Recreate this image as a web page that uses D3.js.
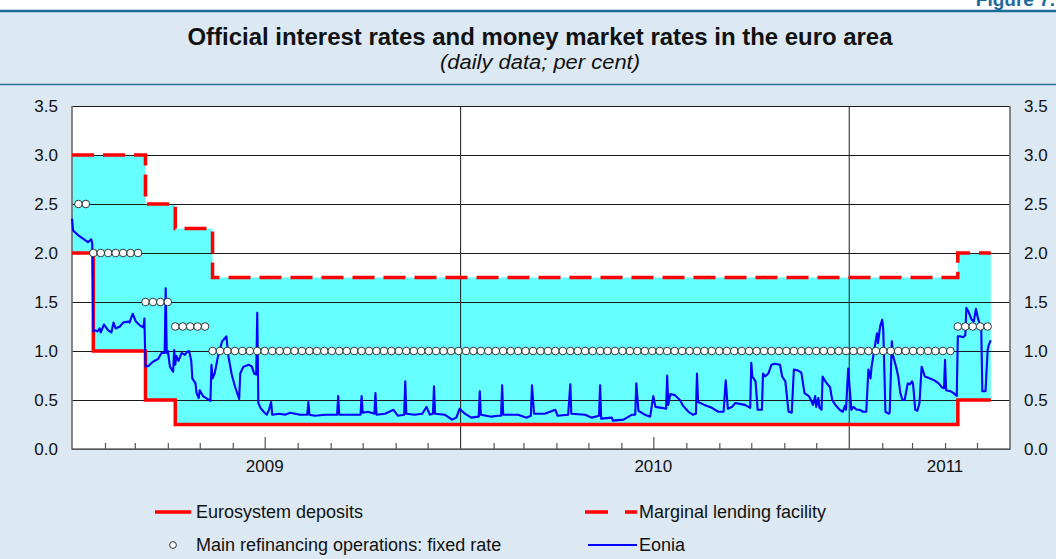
<!DOCTYPE html>
<html>
<head>
<meta charset="utf-8">
<script src="https://cdn.jsdelivr.net/npm/d3@7"></script>
<style>
  body { margin: 0; background: #fff; }
  svg { display: block; font-family: "Liberation Sans", Arial, Helvetica, sans-serif; }
</style>
</head>
<body>
<div id="chart"></div>
<script>
// ECB policy rates, as step changes (date the new rate applies, per cent)
var depositSteps = [["2009-01-01", 2.00], ["2009-01-21", 1.00], ["2009-03-11", 0.50], ["2009-04-08", 0.25], ["2011-04-13", 0.50]];
var lendingSteps = [["2009-01-01", 3.00], ["2009-03-11", 2.50], ["2009-04-08", 2.25], ["2009-05-13", 1.75], ["2011-04-13", 2.00]];
var mroSteps = [["2009-01-01", 2.50], ["2009-01-21", 2.00], ["2009-03-11", 1.50], ["2009-04-08", 1.25], ["2009-05-13", 1.00], ["2011-04-13", 1.25]];
var dataEnd = "2011-05-14";
// weekly main refinancing operations (Wednesdays)
var mroFirstOp = "2009-01-07", mroLastOp = "2011-05-11";

// Eonia
var eonia = [
  ["2009-01-01", 2.35], ["2009-01-02", 2.23], ["2009-01-07", 2.18], ["2009-01-11", 2.15], ["2009-01-16", 2.11],
  ["2009-01-19", 2.14], ["2009-01-20", 2.10], ["2009-01-21", 1.20], ["2009-01-23", 1.21], ["2009-01-25", 1.20],
  ["2009-01-27", 1.23], ["2009-01-28", 1.19], ["2009-01-31", 1.27], ["2009-02-04", 1.21], ["2009-02-07", 1.19],
  ["2009-02-09", 1.29], ["2009-02-11", 1.23], ["2009-02-15", 1.25], ["2009-02-18", 1.29], ["2009-02-23", 1.30],
  ["2009-02-24", 1.29], ["2009-02-27", 1.38], ["2009-03-02", 1.30], ["2009-03-06", 1.26], ["2009-03-09", 1.24],
  ["2009-03-10", 1.33], ["2009-03-11", 0.84], ["2009-03-14", 0.85], ["2009-03-18", 0.89], ["2009-03-23", 0.92],
  ["2009-03-26", 0.98], ["2009-03-29", 0.98], ["2009-03-30", 1.64], ["2009-03-31", 0.98], ["2009-04-01", 1.00],
  ["2009-04-03", 0.84], ["2009-04-06", 0.79], ["2009-04-07", 1.01], ["2009-04-08", 0.86], ["2009-04-09", 0.95],
  ["2009-04-11", 0.90], ["2009-04-14", 0.98], ["2009-04-17", 0.96], ["2009-04-19", 0.99], ["2009-04-21", 1.00],
  ["2009-04-23", 0.90], ["2009-04-24", 0.72], ["2009-04-27", 0.67], ["2009-04-28", 0.57], ["2009-04-30", 0.52],
  ["2009-05-01", 0.60], ["2009-05-04", 0.54], ["2009-05-07", 0.52], ["2009-05-11", 0.49], ["2009-05-12", 0.86],
  ["2009-05-13", 0.72], ["2009-05-15", 0.77], ["2009-05-18", 0.94], ["2009-05-22", 1.10], ["2009-05-23", 1.11],
  ["2009-05-26", 1.15], ["2009-05-28", 0.94], ["2009-05-31", 0.76], ["2009-06-03", 0.64], ["2009-06-07", 0.51],
  ["2009-06-08", 0.77], ["2009-06-11", 0.84], ["2009-06-16", 0.86], ["2009-06-19", 0.84], ["2009-06-21", 0.77],
  ["2009-06-23", 0.76], ["2009-06-24", 1.39], ["2009-06-25", 0.47], ["2009-06-27", 0.42], ["2009-06-30", 0.38],
  ["2009-07-03", 0.35], ["2009-07-05", 0.40], ["2009-07-07", 0.48], ["2009-07-08", 0.35], ["2009-07-15", 0.36],
  ["2009-07-20", 0.35], ["2009-07-25", 0.37], ["2009-08-03", 0.35], ["2009-08-10", 0.35], ["2009-08-11", 0.48],
  ["2009-08-12", 0.35], ["2009-08-17", 0.34], ["2009-08-27", 0.35], ["2009-09-07", 0.35], ["2009-09-08", 0.54],
  ["2009-09-09", 0.35], ["2009-09-19", 0.35], ["2009-09-29", 0.35], ["2009-09-30", 0.54], ["2009-10-01", 0.37],
  ["2009-10-06", 0.38], ["2009-10-12", 0.36], ["2009-10-13", 0.57], ["2009-10-14", 0.35], ["2009-10-22", 0.36],
  ["2009-10-30", 0.40], ["2009-11-03", 0.34], ["2009-11-09", 0.35], ["2009-11-10", 0.69], ["2009-11-11", 0.36],
  ["2009-11-19", 0.35], ["2009-11-26", 0.36], ["2009-11-30", 0.43], ["2009-12-03", 0.35], ["2009-12-06", 0.36],
  ["2009-12-07", 0.64], ["2009-12-08", 0.36], ["2009-12-17", 0.35], ["2009-12-24", 0.30], ["2009-12-28", 0.32],
  ["2009-12-31", 0.41], ["2010-01-05", 0.36], ["2010-01-11", 0.32], ["2010-01-18", 0.33], ["2010-01-19", 0.59],
  ["2010-01-20", 0.35], ["2010-01-30", 0.33], ["2010-02-05", 0.34], ["2010-02-08", 0.34], ["2010-02-09", 0.65],
  ["2010-02-10", 0.35], ["2010-02-24", 0.35], ["2010-03-04", 0.32], ["2010-03-08", 0.34], ["2010-03-09", 0.65],
  ["2010-03-11", 0.36], ["2010-03-21", 0.36], ["2010-03-31", 0.40], ["2010-04-02", 0.34], ["2010-04-12", 0.35],
  ["2010-04-14", 0.66], ["2010-04-15", 0.36], ["2010-04-28", 0.35], ["2010-05-04", 0.32], ["2010-05-11", 0.34],
  ["2010-05-12", 0.65], ["2010-05-13", 0.31], ["2010-05-23", 0.32], ["2010-05-24", 0.29], ["2010-06-03", 0.30],
  ["2010-06-11", 0.35], ["2010-06-14", 0.35], ["2010-06-15", 0.67], ["2010-06-17", 0.39], ["2010-06-23", 0.35],
  ["2010-06-28", 0.33], ["2010-07-01", 0.54], ["2010-07-03", 0.43], ["2010-07-09", 0.42], ["2010-07-13", 0.41],
  ["2010-07-14", 0.75], ["2010-07-15", 0.45], ["2010-07-17", 0.56], ["2010-07-21", 0.55], ["2010-07-26", 0.50],
  ["2010-07-29", 0.44], ["2010-08-03", 0.38], ["2010-08-07", 0.35], ["2010-08-10", 0.36], ["2010-08-11", 0.77],
  ["2010-08-12", 0.48], ["2010-08-18", 0.45], ["2010-08-25", 0.42], ["2010-08-31", 0.38], ["2010-09-05", 0.38],
  ["2010-09-07", 0.70], ["2010-09-09", 0.41], ["2010-09-13", 0.43], ["2010-09-16", 0.47], ["2010-09-25", 0.45],
  ["2010-09-30", 0.42], ["2010-10-01", 0.88], ["2010-10-02", 0.74], ["2010-10-05", 0.69], ["2010-10-07", 0.40],
  ["2010-10-11", 0.40], ["2010-10-12", 0.77], ["2010-10-14", 0.74], ["2010-10-17", 0.77], ["2010-10-20", 0.86],
  ["2010-10-23", 0.87], ["2010-10-28", 0.86], ["2010-10-30", 0.74], ["2010-11-02", 0.69], ["2010-11-05", 0.38],
  ["2010-11-08", 0.37], ["2010-11-10", 0.81], ["2010-11-14", 0.80], ["2010-11-17", 0.78], ["2010-11-20", 0.57],
  ["2010-11-24", 0.54], ["2010-11-26", 0.50], ["2010-11-28", 0.45], ["2010-11-30", 0.54], ["2010-12-01", 0.43],
  ["2010-12-03", 0.52], ["2010-12-04", 0.42], ["2010-12-06", 0.40], ["2010-12-07", 0.74], ["2010-12-09", 0.70],
  ["2010-12-11", 0.67], ["2010-12-14", 0.63], ["2010-12-16", 0.50], ["2010-12-19", 0.45], ["2010-12-23", 0.40],
  ["2010-12-26", 0.38], ["2010-12-28", 0.44], ["2010-12-29", 0.40], ["2010-12-31", 0.82], ["2011-01-03", 0.40],
  ["2011-01-05", 0.43], ["2011-01-08", 0.40], ["2011-01-11", 0.40], ["2011-01-14", 0.38], ["2011-01-17", 0.38],
  ["2011-01-19", 0.81], ["2011-01-21", 0.72], ["2011-01-22", 0.84], ["2011-01-23", 0.91], ["2011-01-27", 1.18],
  ["2011-01-28", 1.08], ["2011-01-30", 1.25], ["2011-02-01", 1.32], ["2011-02-02", 1.21], ["2011-02-04", 0.38],
  ["2011-02-07", 0.36], ["2011-02-08", 0.37], ["2011-02-10", 1.10], ["2011-02-11", 0.96], ["2011-02-14", 0.84],
  ["2011-02-16", 0.74], ["2011-02-18", 0.57], ["2011-02-20", 0.50], ["2011-02-22", 0.50], ["2011-02-25", 0.67],
  ["2011-02-27", 0.66], ["2011-03-01", 0.69], ["2011-03-02", 0.66], ["2011-03-04", 0.40], ["2011-03-06", 0.39],
  ["2011-03-08", 0.47], ["2011-03-10", 0.84], ["2011-03-13", 0.74], ["2011-03-18", 0.72], ["2011-03-22", 0.70],
  ["2011-03-26", 0.67], ["2011-03-29", 0.63], ["2011-03-31", 0.62], ["2011-04-01", 0.91], ["2011-04-02", 0.60],
  ["2011-04-06", 0.59], ["2011-04-09", 0.57], ["2011-04-12", 0.54], ["2011-04-13", 1.15], ["2011-04-15", 1.15],
  ["2011-04-18", 1.14], ["2011-04-20", 1.16], ["2011-04-21", 1.44], ["2011-04-23", 1.40], ["2011-04-26", 1.32],
  ["2011-04-28", 1.30], ["2011-04-30", 1.43], ["2011-05-02", 1.33], ["2011-05-05", 1.23], ["2011-05-06", 0.59],
  ["2011-05-09", 0.59], ["2011-05-11", 1.01], ["2011-05-12", 1.06], ["2011-05-14", 1.11]
];

var yTicks = [0, 0.5, 1, 1.5, 2, 2.5, 3, 3.5];
var yearLabels = [["2009", "2009-07-01"], ["2010", "2010-07-01"], ["2011", "2011-04-01"]];
var axisStart = "2009-01-01", axisEnd = "2011-06-01";

var width = 1056, height = 559;
var plot = {left: 72, right: 1010, top: 106, bottom: 449};
var parse = d3.timeParse("%Y-%m-%d");

var svg = d3.select("#chart").append("svg")
    .attr("width", width)
    .attr("height", height);

// background panels
svg.append("rect").attr("width", width).attr("height", height).attr("fill", "#dce9f3");
svg.append("rect").attr("width", width).attr("height", 11).attr("fill", "#fff");
svg.append("line").attr("x1", 0).attr("x2", width).attr("y1", 11).attr("y2", 11)
    .attr("stroke", "#1b6a98").attr("stroke-width", 2.5);
svg.append("line").attr("x1", 0).attr("x2", width).attr("y1", 84.5).attr("y2", 84.5)
    .attr("stroke", "#2e7194").attr("stroke-width", 1.5);

// figure number, cut by the top edge as in the source page
svg.append("text")
    .attr("x", 1055).attr("y", 6)
    .attr("text-anchor", "end")
    .attr("font-weight", "bold").attr("font-size", 19)
    .attr("fill", "#1b6a98")
    .text("Figure 7.");

svg.append("text")
    .attr("x", 540).attr("y", 45)
    .attr("text-anchor", "middle")
    .attr("font-weight", "bold").attr("font-size", 23)
    .attr("textLength", 705).attr("lengthAdjust", "spacingAndGlyphs")
    .attr("fill", "#111")
    .text("Official interest rates and money market rates in the euro area");

svg.append("text")
    .attr("x", 540).attr("y", 69)
    .attr("text-anchor", "middle")
    .attr("font-style", "italic").attr("font-size", 20)
    .attr("textLength", 200).attr("lengthAdjust", "spacingAndGlyphs")
    .attr("fill", "#111")
    .text("(daily data; per cent)");

var x = d3.scaleTime()
    .domain([parse(axisStart), parse(axisEnd)])
    .range([plot.left, plot.right]);

var y = d3.scaleLinear()
    .domain([0, 3.5])
    .range([plot.bottom, plot.top]);

svg.append("rect")
    .attr("x", plot.left).attr("y", plot.top)
    .attr("width", plot.right - plot.left).attr("height", plot.bottom - plot.top)
    .attr("fill", "#fff");

// step lookup helpers
function stepValue(steps, date) {
    var v = steps[0][1];
    steps.forEach(function (s) { if (parse(s[0]) <= date) v = s[1]; });
    return v;
}
function stepPoints(steps) {
    var pts = steps.map(function (s) { return [parse(s[0]), s[1]]; });
    pts.push([parse(dataEnd), steps[steps.length - 1][1]]);
    return pts;
}

// corridor between deposit and marginal lending rate
var changeDates = d3.sort(Array.from(new Set(depositSteps.concat(lendingSteps).map(function (s) { return s[0]; }))));
var corridor = changeDates.map(function (d) {
    var dt = parse(d);
    return {date: dt, low: stepValue(depositSteps, dt), high: stepValue(lendingSteps, dt)};
});
corridor.push({date: parse(dataEnd), low: stepValue(depositSteps, parse(dataEnd)), high: stepValue(lendingSteps, parse(dataEnd))});

var area = d3.area()
    .curve(d3.curveStepAfter)
    .x(function (d) { return x(d.date); })
    .y0(function (d) { return y(d.low); })
    .y1(function (d) { return y(d.high); });

svg.append("path")
    .datum(corridor)
    .attr("d", area)
    .attr("fill", "#66ffff");

// horizontal grid
var grid = svg.append("g")
    .attr("transform", "translate(" + plot.left + ",0)")
    .call(d3.axisLeft(y).tickValues(yTicks).tickSize(-(plot.right - plot.left)).tickFormat(""));
grid.select(".domain").remove();
grid.selectAll("line").attr("stroke", "#1a1a1a").attr("stroke-width", 1);

// year separators
svg.selectAll(".yearLine")
    .data([parse("2010-01-01"), parse("2011-01-01")])
    .enter().append("line")
    .attr("class", "yearLine")
    .attr("x1", function (d) { return x(d); }).attr("x2", function (d) { return x(d); })
    .attr("y1", plot.top).attr("y2", plot.bottom)
    .attr("stroke", "#1a1a1a").attr("stroke-width", 1);

// x axis month ticks
var months = d3.timeMonth.range(parse(axisStart), parse(axisEnd)).filter(function (d) { return d.getMonth() !== 0; });
var xAxis = svg.append("g")
    .attr("transform", "translate(0," + plot.bottom + ")")
    .call(d3.axisBottom(x).tickValues(months).tickSizeInner(-6).tickSizeOuter(0).tickFormat(""));
xAxis.select(".domain").remove();
xAxis.selectAll(".tick line")
    .attr("stroke", "#555").attr("stroke-width", 1.2)
    .attr("y2", function (d) { return d.getMonth() === 6 ? -12 : -6; });

svg.selectAll(".yearLabel")
    .data(yearLabels)
    .enter().append("text")
    .attr("class", "yearLabel")
    .attr("x", function (d) { return x(parse(d[1])); })
    .attr("y", 472)
    .attr("text-anchor", "middle")
    .attr("font-size", 17)
    .attr("fill", "#111")
    .text(function (d) { return d[0]; });

// frame
svg.append("path")
    .attr("d", "M" + plot.left + "," + plot.top + "V" + plot.bottom + "H" + plot.right + "V" + plot.top)
    .attr("fill", "none")
    .attr("stroke", "#6b6b6b").attr("stroke-width", 1.6);

// y axes labels
var leftAxis = svg.append("g")
    .attr("transform", "translate(" + plot.left + ",0)")
    .call(d3.axisLeft(y).tickValues(yTicks).tickSize(0).tickPadding(14).tickFormat(d3.format(".1f")));
var rightAxis = svg.append("g")
    .attr("transform", "translate(" + plot.right + ",0)")
    .call(d3.axisRight(y).tickValues(yTicks).tickSize(0).tickPadding(14).tickFormat(d3.format(".1f")));
[leftAxis, rightAxis].forEach(function (a) {
    a.select(".domain").remove();
    a.selectAll("text").attr("font-size", 17).attr("fill", "#111")
        .attr("font-family", "Liberation Sans, Arial, sans-serif");
});

var stepLine = d3.line()
    .curve(d3.curveStepAfter)
    .x(function (d) { return x(d[0]); })
    .y(function (d) { return y(d[1]); });

svg.append("path")
    .datum(stepPoints(depositSteps))
    .attr("d", stepLine)
    .attr("fill", "none")
    .attr("stroke", "#ff0000").attr("stroke-width", 3.5);

svg.append("path")
    .datum(stepPoints(lendingSteps))
    .attr("d", stepLine)
    .attr("fill", "none")
    .attr("stroke", "#ff0000").attr("stroke-width", 3.5)
    .attr("stroke-dasharray", "22,9");

// Eonia
var eoniaLine = d3.line()
    .x(function (d) { return x(parse(d[0])); })
    .y(function (d) { return y(d[1]); });

svg.append("path")
    .datum(eonia)
    .attr("d", eoniaLine)
    .attr("fill", "none")
    .attr("stroke", "#0000ff").attr("stroke-width", 2.1)
    .attr("stroke-linejoin", "round");

// main refinancing operations, one per week
var ops = d3.timeWednesday.range(parse(mroFirstOp), d3.timeDay.offset(parse(mroLastOp), 1));
svg.selectAll(".mro")
    .data(ops)
    .enter().append("circle")
    .attr("class", "mro")
    .attr("cx", function (d) { return x(d); })
    .attr("cy", function (d) { return y(stepValue(mroSteps, d)); })
    .attr("r", 3.8)
    .attr("fill", "#fff")
    .attr("stroke", "#222").attr("stroke-width", 0.9);

// legend
var legend = svg.append("g").attr("font-size", 18).attr("fill", "#111");
legend.append("line").attr("x1", 155).attr("x2", 191).attr("y1", 512).attr("y2", 512)
    .attr("stroke", "#ff0000").attr("stroke-width", 3.5);
legend.append("text").attr("x", 196).attr("y", 518).text("Eurosystem deposits");
legend.append("line").attr("x1", 585).attr("x2", 637).attr("y1", 512).attr("y2", 512)
    .attr("stroke", "#ff0000").attr("stroke-width", 3.5).attr("stroke-dasharray", "23,17");
legend.append("text").attr("x", 639).attr("y", 518).text("Marginal lending facility");
legend.append("circle").attr("cx", 173).attr("cy", 545).attr("r", 3.4)
    .attr("fill", "#fff").attr("stroke", "#222").attr("stroke-width", 0.9);
legend.append("text").attr("x", 196).attr("y", 551).text("Main refinancing operations: fixed rate");
legend.append("line").attr("x1", 588).attr("x2", 637).attr("y1", 545).attr("y2", 545)
    .attr("stroke", "#0000ff").attr("stroke-width", 2);
legend.append("text").attr("x", 639).attr("y", 551).text("Eonia");
</script>
</body>
</html>
